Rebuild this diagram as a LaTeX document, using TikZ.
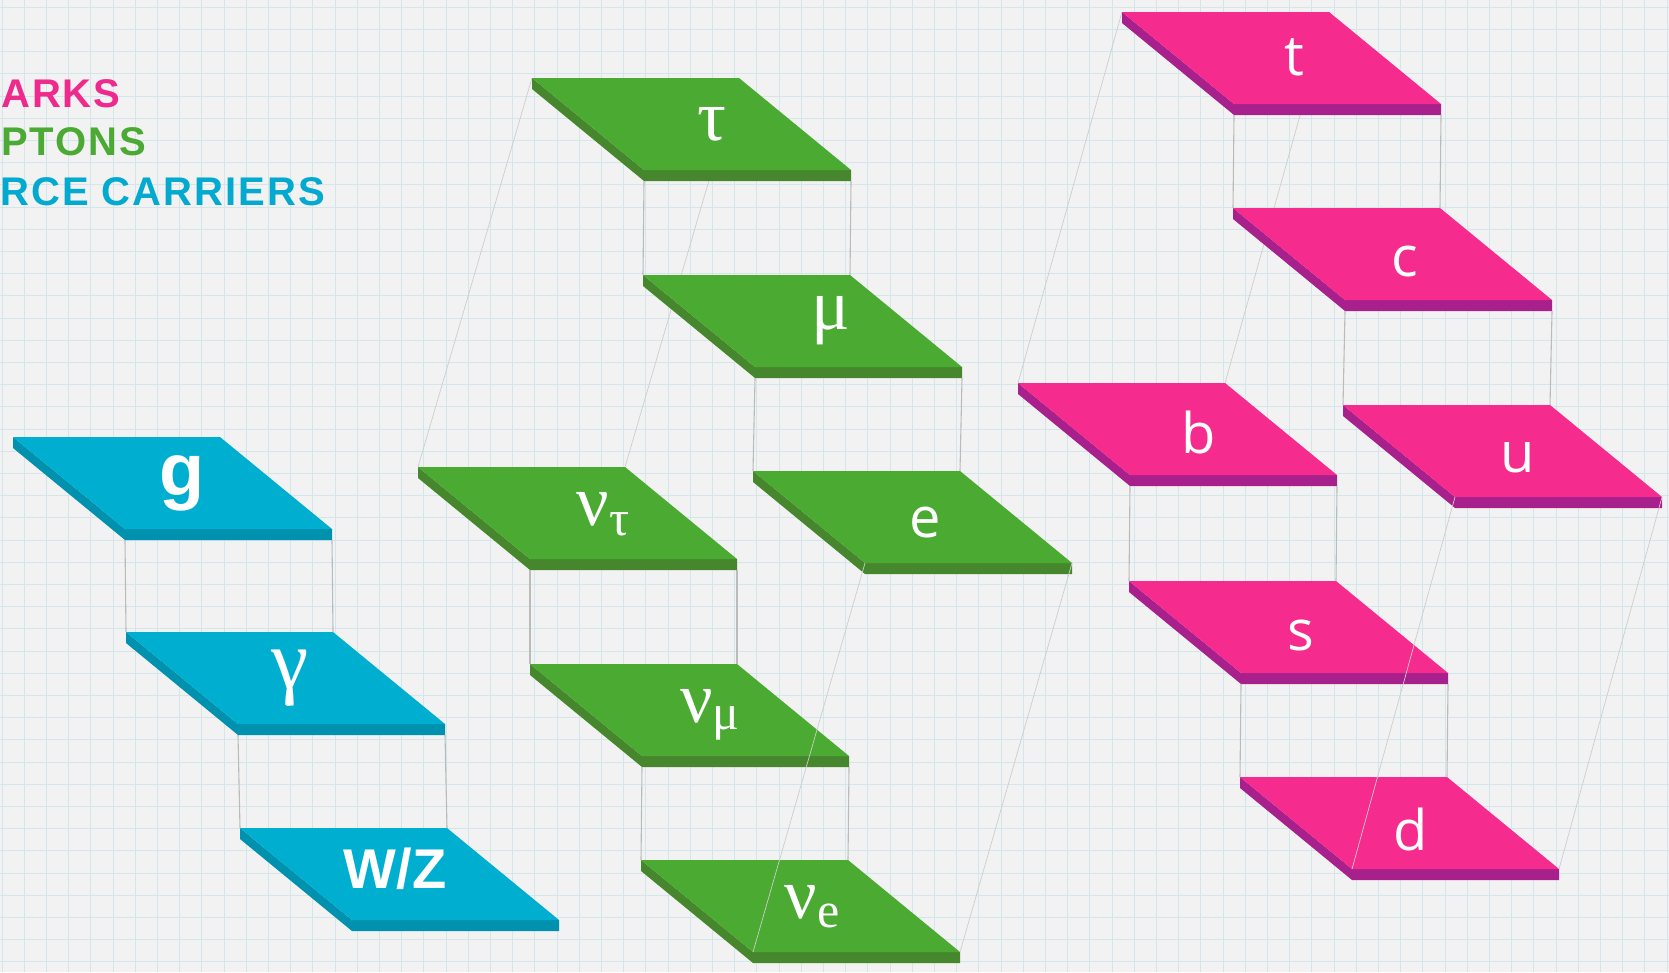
\documentclass[tikz,border=0pt]{standalone}
\usepackage{fontspec}
\setmainfont{Open Sans}
\newfontfamily\headfont[LetterSpace=5]{Liberation Sans}
\newfontfamily\grkfont{Liberation Serif}
\newfontfamily\latfont{Open Sans}
\newfontfamily\boldfont{Liberation Sans}

\definecolor{paper}{HTML}{F2F2F2}
\definecolor{gridblue}{HTML}{D3E6EC}
\definecolor{linkgray}{HTML}{BBBBBB}
\definecolor{edgegray}{HTML}{CDCDCD}
\definecolor{quarktop}{HTML}{F52B8D}
\definecolor{quarkside}{HTML}{A8208C}
\definecolor{leptontop}{HTML}{4AAA32}
\definecolor{leptonside}{HTML}{46872D}
\definecolor{forcetop}{HTML}{00AFD0}
\definecolor{forceside}{HTML}{0091AF}
\definecolor{quarkhead}{HTML}{EE2A8C}
\definecolor{leptonhead}{HTML}{4BAA33}
\definecolor{forcehead}{HTML}{03A9CF}

\pgfdeclarelayer{sheet}
\pgfdeclarelayer{behind}
\pgfsetlayers{sheet,behind,main}

\tikzset{
  gridline/.style={draw=gridblue, line width=0.9pt},
  link/.style={draw=linkgray, line width=1.1pt},
  edge3d/.style={draw=edgegray, line width=0.7pt},
  labeltext/.style={text=white, inner sep=0pt, anchor=base},
  heading/.style={inner sep=0pt,
    font=\headfont\bfseries\fontsize{40}{40}\selectfont},
}

% a flat plate: top face plus a thin edge below its front and left sides
\newcommand\plate[5]{%
  \begin{scope}[shift={(#2,#3)}]
    \coordinate (#1-tl) at (0,0);
    \coordinate (#1-tr) at (207,0);
    \coordinate (#1-br) at (319,92);
    \coordinate (#1-bl) at (112,92);
    \coordinate (#1-lb) at (112,103);
    \coordinate (#1-rb) at (319,103);
    \fill[#5] (0,0) -- (112,92) -- (319,92) -- (319,103) -- (112,103) -- (0,11) -- cycle;
    \fill[#4] (0,0) -- (207,0) -- (319,92) -- (112,92) -- cycle;
  \end{scope}}

\newcommand\grkbig{\grkfont\fontsize{72}{72}\selectfont}
\newcommand\grksub{\grkfont\fontsize{50}{50}\selectfont}
\newcommand\latbig{\latfont\fontsize{56}{56}\selectfont}

\begin{document}
\begin{tikzpicture}[x=1pt, y=-1pt]
  \useasboundingbox (0,0) rectangle (1669,972);

  % graph paper
  \begin{pgfonlayer}{sheet}
    \fill[paper] (0,0) rectangle (1669,972);
    \foreach \i in {0,...,75} \draw[gridline] ({2+22.2*\i},0) -- ({2+22.2*\i},972);
    \foreach \j in {0,...,43} \draw[gridline] (0,{7.3+22.2*\j}) -- (1669,{7.3+22.2*\j});
  \end{pgfonlayer}

  % headings
  \node[heading, anchor=base west, text=quarkhead]  (hq) at (1,107) {ARKS};
  \node[heading, anchor=base west, text=leptonhead] (hl) at (1,155) {PTONS};
  \node[heading, anchor=base east, text=forcehead]  (hf) at (325,205) {RCE CARRIERS};

  % force carriers
  \plate{g}{13}{437}{forcetop}{forceside}
  \plate{gam}{126}{632}{forcetop}{forceside}
  \plate{wz}{240}{828}{forcetop}{forceside}
  \draw[link] (g-lb) -- (gam-tl);
  \draw[link] (g-rb) -- (gam-tr);
  \draw[link] (gam-lb) -- (wz-tl);
  \draw[link] (gam-rb) -- (wz-tr);

  % charged leptons
  \plate{tau}{532}{78}{leptontop}{leptonside}
  \plate{mu}{643}{275}{leptontop}{leptonside}
  \plate{e}{753}{471}{leptontop}{leptonside}
  \draw[link] (tau-lb) -- (mu-tl);
  \draw[link] (tau-rb) -- (mu-tr);
  \draw[link] (mu-lb) -- (e-tl);
  \draw[link] (mu-rb) -- (e-tr);

  % neutrinos
  \plate{nut}{418}{467}{leptontop}{leptonside}
  \plate{num}{530}{664}{leptontop}{leptonside}
  \plate{nue}{641}{860}{leptontop}{leptonside}
  \draw[link] (nut-lb) -- (num-tl);
  \draw[link] (nut-rb) -- (num-tr);
  \draw[link] (num-lb) -- (nue-tl);
  \draw[link] (num-rb) -- (nue-tr);

  % up-type quarks
  \plate{t}{1122}{12}{quarktop}{quarkside}
  \plate{c}{1233}{208}{quarktop}{quarkside}
  \plate{u}{1343}{405}{quarktop}{quarkside}
  \draw[link] (t-lb) -- (c-tl);
  \draw[link] (t-rb) -- (c-tr);
  \draw[link] (c-lb) -- (u-tl);
  \draw[link] (c-rb) -- (u-tr);

  % down-type quarks
  \plate{b}{1018}{383}{quarktop}{quarkside}
  \plate{s}{1129}{581}{quarktop}{quarkside}
  \plate{d}{1240}{777}{quarktop}{quarkside}
  \draw[link] (b-lb) -- (s-tl);
  \draw[link] (b-rb) -- (s-tr);
  \draw[link] (s-lb) -- (d-tl);
  \draw[link] (s-rb) -- (d-tr);

  % back edges of the lepton and quark blocks, hidden by the plates
  \begin{pgfonlayer}{behind}
    \draw[edge3d] (tau-tl) -- (nut-tl);
    \draw[edge3d] (tau-tr) -- (nut-tr);
    \draw[edge3d] (t-tl) -- (b-tl);
    \draw[edge3d] (t-tr) -- (b-tr);
  \end{pgfonlayer}

  % front edges of the lepton and quark blocks
  \draw[edge3d] (e-bl) -- (nue-bl);
  \draw[edge3d] (e-br) -- (nue-br);
  \draw[edge3d] (u-bl) -- (d-bl);
  \draw[edge3d] (u-br) -- (d-br);

  % symbols
  \node[labeltext, font=\boldfont\bfseries\fontsize{74}{74}\selectfont] (lg) at (182,495) {g};
  \node[labeltext, font=\grkfont\fontsize{84}{84}\selectfont] (lgam) at (290,688) {γ};
  \node[labeltext, font=\boldfont\bfseries\fontsize{56}{56}\selectfont] (lwz) at (395,888) {W/Z};

  \node[labeltext, font=\grkbig] (ltau) at (712,140) {τ};
  \node[labeltext, font=\grkbig] (lmu) at (831,329) {μ};
  \node[labeltext, font=\latbig] (le) at (925,537) {e};
  \node[labeltext, font=\grkbig] (lnut) at (603,525) {ν\raisebox{-10pt}{\grksub τ}};
  \node[labeltext, font=\grkbig] (lnum) at (710,722) {ν\raisebox{-7pt}{\grksub μ}};
  \node[labeltext, font=\grkbig] (lnue) at (812,918) {ν\raisebox{-9pt}{\grksub e}};

  \node[labeltext, font=\latbig] (lt) at (1294,75) {t};
  \node[labeltext, font=\latbig] (lc) at (1405,276) {c};
  \node[labeltext, font=\latbig] (lu) at (1518,472) {u};
  \node[labeltext, font=\latbig] (lb) at (1199,453) {b};
  \node[labeltext, font=\latbig] (ls) at (1301,650) {s};
  \node[labeltext, font=\latbig] (ld) at (1411,850) {d};
\end{tikzpicture}
\end{document}
